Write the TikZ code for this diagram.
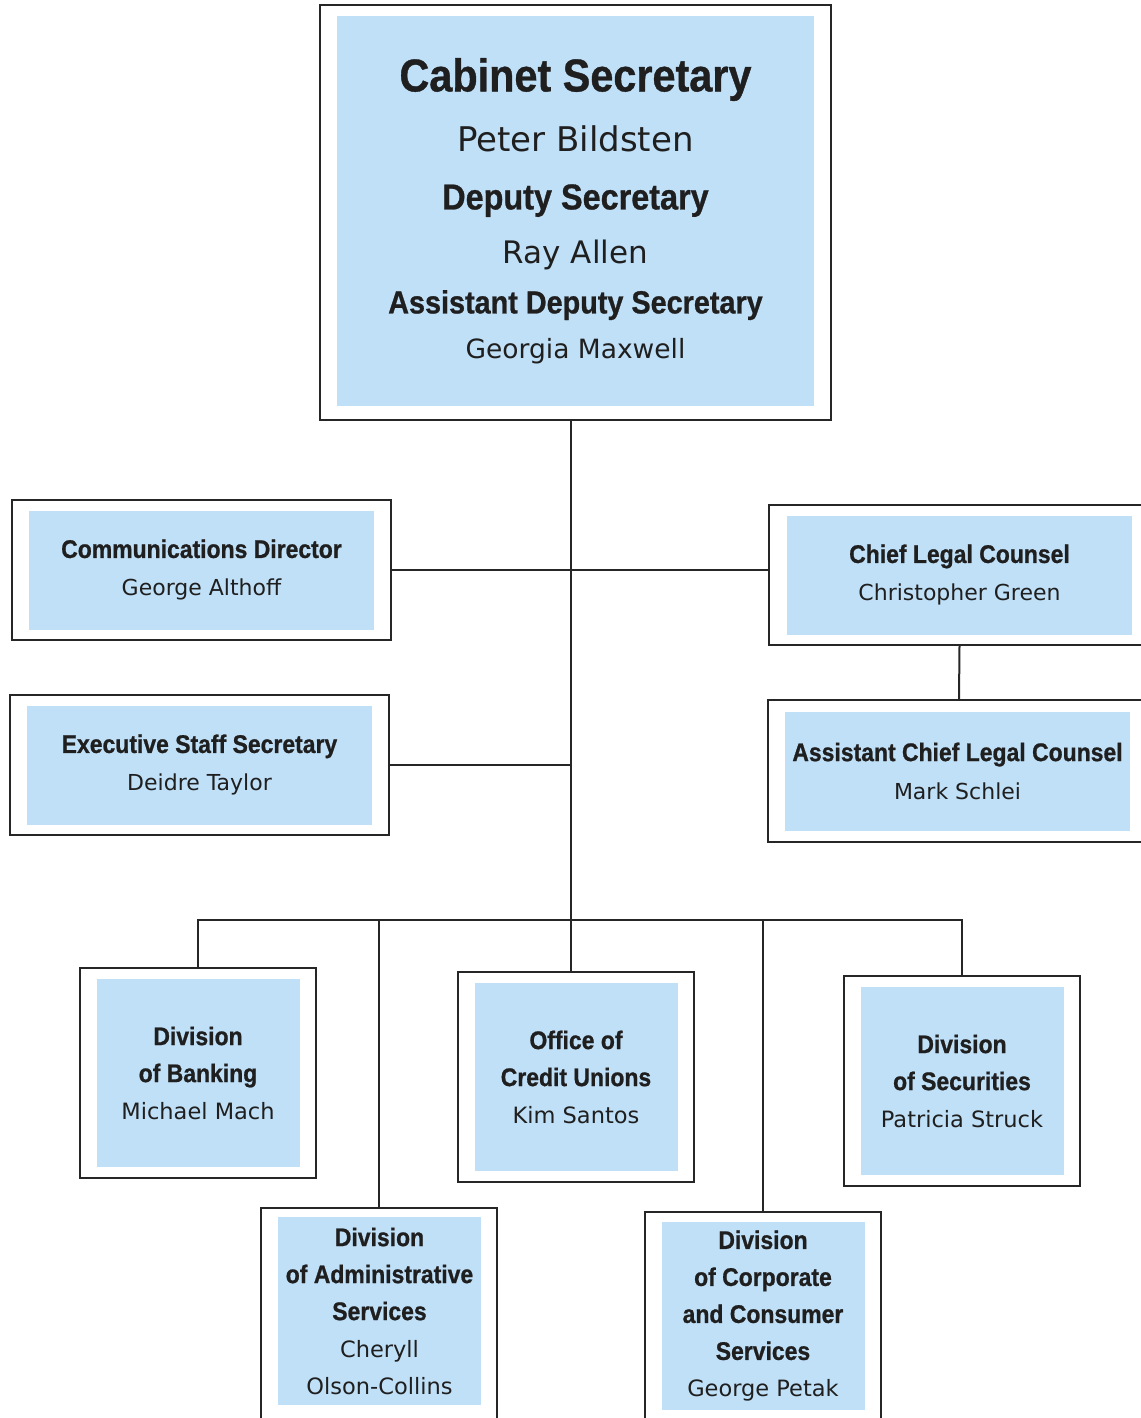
\documentclass[tikz,border=0pt]{standalone}
\usepackage{fontspec}
\setmainfont{DejaVu Sans}
\newfontfamily\postfont[FakeStretch=0.9, FakeBold=0.8]{Liberation Sans}
\newcommand\post[2][25.5]{{\postfont\bfseries\fontsize{#1}{38}\selectfont #2}}
\definecolor{panelblue}{RGB}{192,224,247}

\begin{document}
\begin{tikzpicture}[x=1pt, y=-1pt,
    frame/.style={draw=black!85, line width=2pt, fill=white},
    panel/.style={fill=panelblue, align=center, text=black!88, inner sep=0pt},
    unit/.style={font=\fontsize{22}{38}\selectfont, minimum width=345pt, minimum height=119pt},
    division/.style={font=\fontsize{22.5}{37}\selectfont, minimum width=203pt, minimum height=188pt},
    link/.style={draw=black!85, line width=2pt}]

\useasboundingbox (0,0) rectangle (1140,1418);

% secretary
\node[frame, minimum width=511pt, minimum height=415pt] (cabinet) at (575.5,212.5) {};
\node[panel, minimum width=477pt, minimum height=390pt, font=\fontsize{32}{50}\selectfont] (cabinet-p) at (575.5,211) {%
    \post[46]{Cabinet Secretary}\\[10pt]
    {\fontsize{34}{50}\selectfont Peter Bildsten}\\[8pt]
    \post[36]{Deputy Secretary}\\[4pt]
    {\fontsize{31}{50}\selectfont Ray Allen}\\
    \post[32]{Assistant Deputy Secretary}\\[-5pt]
    {\fontsize{26.5}{50}\selectfont Georgia Maxwell}};

% staff
\node[frame, minimum width=379pt, minimum height=140pt] (comm) at (201.5,570) {};
\node[panel, unit] (comm-p) at (comm) {\post{Communications Director}\\George Althoff};
\node[frame, minimum width=379pt, minimum height=140pt] (exec) at (199.5,765) {};
\node[panel, unit] (exec-p) at (exec) {\post{Executive Staff Secretary}\\Deidre Taylor};
\node[frame, minimum width=381pt, minimum height=140pt] (chief) at (959.5,575) {};
\node[panel, unit] (chief-p) at (chief) {\post{Chief Legal Counsel}\\Christopher Green};
\node[frame, minimum width=382pt, minimum height=142pt] (asst) at (959,771) {};
\node[panel, unit] (asst-p) at (957.5,771) {\post{Assistant Chief Legal Counsel}\\Mark Schlei};

% divisions
\node[frame, minimum width=236pt, minimum height=210pt] (banking) at (198,1073) {};
\node[panel, division] (banking-p) at (banking) {\post{Division}\\\post{of Banking}\\Michael Mach};
\node[frame, minimum width=236pt, minimum height=210pt] (credit) at (576,1077) {};
\node[panel, division] (credit-p) at (credit) {\post{Office of}\\\post{Credit Unions}\\Kim Santos};
\node[frame, minimum width=236pt, minimum height=210pt] (securities) at (962,1081) {};
\node[panel, division] (securities-p) at (securities) {\post{Division}\\\post{of Securities}\\Patricia Struck};
\node[frame, minimum width=236pt, minimum height=212pt] (admin) at (379,1314) {};
\node[panel, division] (admin-p) at (379.5,1311) {\post{Division}\\\post{of Administrative}\\\post{Services}\\Cheryll\\Olson-Collins};
\node[frame, minimum width=236pt, minimum height=210pt] (corporate) at (763,1317) {};
\node[panel, division] (corporate-p) at (763,1316) {\post{Division}\\\post{of Corporate}\\\post{and Consumer}\\\post{Services}\\George Petak};

\coordinate (bus) at (571,920);

% lines
\draw[link] (bus |- cabinet.south) -- (bus |- credit.north);
\draw[link] (comm.east) -- (comm.east -| chief.west);
\draw[link] (exec.east) -- (exec.east -| bus);
\draw[link] (chief.south) -- (asst.north);
\draw[link] (banking.north) |- (bus) -| (securities.north);
\draw[link] (admin.north) -- (admin.north |- bus);
\draw[link] (corporate.north) -- (corporate.north |- bus);

\end{tikzpicture}
\end{document}
